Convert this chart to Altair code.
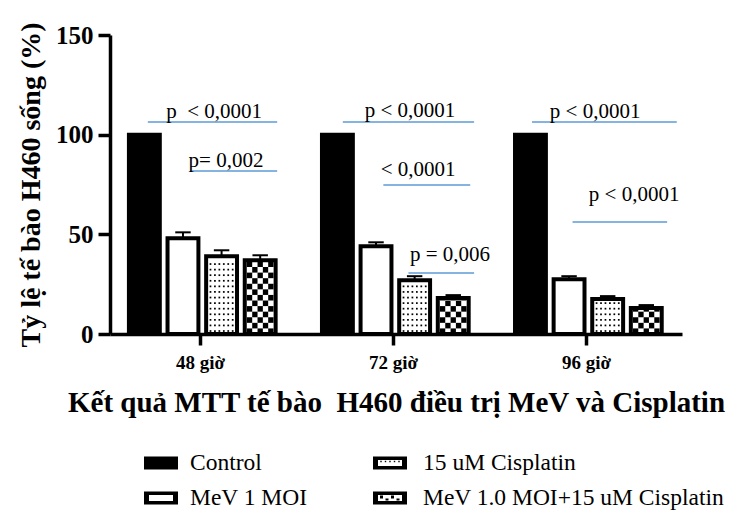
import altair as alt
import pandas as pd

# ---------------- data ----------------
groups = ["48 giờ", "72 giờ", "96 giờ"]
series = ["Control", "MeV 1 MOI", "15 uM Cisplatin", "MeV 1.0 MOI+15 uM Cisplatin"]
val_control = [100, 100, 100]
val_mev = [48, 44, 27.5]
val_cis = [39, 27, 17.5]
val_combo = [37, 18, 13]
err_control = [0, 0, 0]
err_mev = [3, 2, 1.5]
err_cis = [3, 2, 1.5]
err_combo = [2.5, 1.5, 1.5]

# significance annotations (x in group units: 1 = 48 giờ, 2 = 72 giờ, 3 = 96 giờ)
ann_x1 = [0.73, 0.95, 1.74, 1.95, 2.08, 2.72, 2.93]
ann_x2 = [1.40, 1.40, 2.42, 2.40, 2.42, 3.47, 3.42]
ann_y = [106.4, 81.8, 106.4, 74.8, 30.6, 106.4, 56.2]
ann_text = ["p\u00a0 < 0,0001", "p= 0,002", "p < 0,0001", "< 0,0001", "p = 0,006", "p < 0,0001", "p < 0,0001"]
ann_tx = [1.073, 1.135, 2.088, 2.13, 2.295, 3.047, 3.249]
ann_ty = [108.4, 83.8, 108.9, 79.3, 36.6, 108.4, 66.7]

y_title = "Tỷ lệ tế bào H460 sống (%)"
x_title = "Kết quả MTT tế bào\u00a0 H460 điều trị MeV và Cisplatin"

values = [val_control, val_mev, val_cis, val_combo]
errors = [err_control, err_mev, err_cis, err_combo]
fills = ["black", "white", "white", "white"]

FONT = "Liberation Serif"
STEP, BW, SHIFT = 0.2, 0.16, 0.012
INX = 0.011   # inner inset (x units) for patterns

bars, dots, checks, errs = [], [], [], []
for si, s in enumerate(series):
    for gi, g in enumerate(groups):
        v = values[si][gi]
        e = errors[si][gi]
        c = (gi + 1) + (si - 1.5) * STEP + SHIFT
        x0, x1 = c - BW / 2, c + BW / 2
        bars.append({"x": x0, "x2": x1, "y": 0, "y2": v, "fill": fills[si]})
        if e > 0:
            errs.append({"x": c, "xa": c - 0.04, "xb": c + 0.04, "y": v, "y2": v + e})
        ix0, ix1 = x0 + INX, x1 - INX
        if si == 2:  # dotted pattern
            ncol = 6
            w = (ix1 - ix0) / ncol
            yy = 1.5
            while yy < v - 1.2:
                for k in range(ncol):
                    dots.append({"x": ix0 + (k + 0.5) * w, "y": yy})
                yy += 2.8
        if si == 3:  # checker pattern
            ncol = 5
            w = (ix1 - ix0) / ncol
            h = 2.8
            r = 0
            yy = 0
            while yy < v - 0.5:
                top = min(yy + h, v)
                for k in range(ncol):
                    if (r + k) % 2 == 0:
                        checks.append({"x": ix0 + k * w, "x2": ix0 + (k + 1) * w, "y": yy, "y2": top})
                yy += h
                r += 1

bars_df = pd.DataFrame(bars)
dots_df = pd.DataFrame(dots)
checks_df = pd.DataFrame(checks)
errs_df = pd.DataFrame(errs)
ann_df = pd.DataFrame({"x": ann_x1, "x2": ann_x2, "y": ann_y})
txt_df = pd.DataFrame({"x": ann_tx, "y": ann_ty, "t": ann_text})

label_expr = "[" + ",".join("'" + g + "'" for g in groups) + "][datum.value - 1]"

xscale = alt.Scale(domain=[0.534, 3.497], nice=False, zero=False)
yscale = alt.Scale(domain=[0, 150], nice=False)
xaxis = alt.Axis(values=[1, 2, 3], labelExpr=label_expr, grid=False, domainColor="black",
                 domainWidth=3.5, tickColor="black", tickWidth=3.5, tickSize=11,
                 labelFont=FONT, labelFontSize=19, labelFontWeight="bold", labelColor="black",
                 labelPadding=8, titleFont=FONT, titleFontSize=29, titleFontWeight="bold",
                 titleColor="black", titlePadding=16)
yaxis = alt.Axis(values=[0, 50, 100, 150], grid=False, domainColor="black", domainWidth=3.5,
                 tickColor="black", tickWidth=3.5, tickSize=12, labelFont=FONT, labelFontSize=25,
                 labelFontWeight="bold", labelColor="black", labelPadding=5, titleFont=FONT,
                 titleFontSize=28, titleFontWeight="bold", titleColor="black", titlePadding=10)


def X(f="x"):
    return alt.X(f, type="quantitative", scale=xscale, axis=xaxis, title=x_title)


def Y(f="y"):
    return alt.Y(f, type="quantitative", scale=yscale, axis=yaxis, title=y_title)


base_fill = alt.Chart(bars_df).mark_rect().encode(
    x=X(), x2="x2:Q", y=Y(), y2="y2:Q", fill=alt.Fill("fill:N", scale=None))
dot_layer = alt.Chart(dots_df).mark_square(size=3, color="black", opacity=1).encode(x=X(), y=Y())
check_layer = alt.Chart(checks_df).mark_rect(color="black").encode(x=X(), x2="x2:Q", y=Y(), y2="y2:Q")
outline = alt.Chart(bars_df).mark_rect(fillOpacity=0, stroke="black", strokeWidth=4).encode(
    x=X(), x2="x2:Q", y=Y(), y2="y2:Q")
err_v = alt.Chart(errs_df).mark_rule(color="black", strokeWidth=2).encode(x=X(), y=Y(), y2="y2:Q")
err_cap = alt.Chart(errs_df).mark_rule(color="black", strokeWidth=2).encode(
    x=X("xa"), x2="xb:Q", y=Y("y2"))
ann_lines = alt.Chart(ann_df).mark_rule(color="#5b9bd5", strokeWidth=1.5).encode(
    x=X(), x2="x2:Q", y=Y())
ann_texts = alt.Chart(txt_df).mark_text(font=FONT, fontSize=21, color="black", align="center",
                                        baseline="alphabetic").encode(x=X(), y=Y(), text="t:N")

main = alt.layer(base_fill, dot_layer, check_layer, outline, err_v, err_cap, ann_lines, ann_texts
                 ).properties(width=572, height=299)

# ---------------- legend panel (x measured from the plot's left edge) ----------------
col_sym_x = [34, 263]
col_txt_x = [80, 313]
row_y = [44, 79]
SW, SH = 34, 13
leg_sym, leg_inner, leg_dots, leg_checks, leg_txt = [], [], [], [], []
for i, s in enumerate(series):
    col, row = i // 2, i % 2
    x0 = col_sym_x[col]
    yc = row_y[row]
    leg_sym.append({"x": x0, "x2": x0 + SW, "y": yc - SH / 2, "y2": yc + SH / 2})
    leg_txt.append({"x": col_txt_x[col], "y": yc, "t": s})
    if i >= 1:
        leg_inner.append({"x": x0 + 5, "x2": x0 + SW - 5, "y": yc - SH / 2 + 3.5, "y2": yc + SH / 2 - 3.5})
    if i == 2:
        for k in range(5):
            leg_dots.append({"x": x0 + 8 + k * 4.5, "y": yc - 1.5})
    if i == 3:
        for k in range(4):
            leg_checks.append({"x": x0 + 7 + k * 5.5, "x2": x0 + 10 + k * 5.5,
                               "y": yc - (2.5 if k % 2 == 0 else -0.5), "y2": yc + (0.5 if k % 2 == 0 else 2.5)})

lx = alt.Scale(domain=[0, 560], nice=False, zero=False)
ly = alt.Scale(domain=[0, 80], nice=False, zero=False, reverse=True)


def LX(f="x"):
    return alt.X(f, type="quantitative", scale=lx, axis=None)


def LY(f="y"):
    return alt.Y(f, type="quantitative", scale=ly, axis=None)


leg = alt.layer(
    alt.Chart(pd.DataFrame(leg_sym)).mark_rect(color="black").encode(x=LX(), x2="x2:Q", y=LY(), y2="y2:Q"),
    alt.Chart(pd.DataFrame(leg_inner)).mark_rect(color="white").encode(x=LX(), x2="x2:Q", y=LY(), y2="y2:Q"),
    alt.Chart(pd.DataFrame(leg_dots)).mark_square(size=2, color="black", opacity=1).encode(x=LX(), y=LY()),
    alt.Chart(pd.DataFrame(leg_checks)).mark_rect(color="black").encode(x=LX(), x2="x2:Q", y=LY(), y2="y2:Q"),
    alt.Chart(pd.DataFrame(leg_txt)).mark_text(font=FONT, fontSize=23.5, color="black", align="left",
                                               baseline="middle").encode(x=LX(), y=LY(), text="t:N"),
).properties(width=560, height=80)

chart = alt.vconcat(main, leg, spacing=2).properties(
    padding={"left": 9, "top": 13, "right": 0, "bottom": 0}
).configure(font=FONT).configure_view(stroke="transparent", strokeWidth=0)

chart.save("out.html", embed_options={"renderer": "svg", "actions": False})
